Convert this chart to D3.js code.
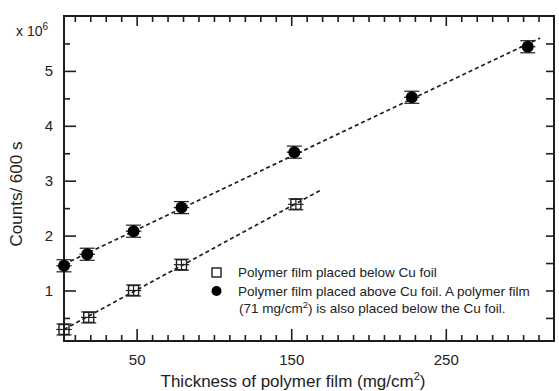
<!DOCTYPE html>
<html>
<head>
<meta charset="utf-8">
<script src="https://cdn.jsdelivr.net/npm/d3@7"></script>
<style>
  body { margin: 0; background: #fff; }
  svg { font-family: "Liberation Sans", Arial, sans-serif; }
</style>
</head>
<body>
<div id="chart"></div>
<script>
// thickness of polymer film (mg/cm2) and counts per 600 s (x 10^6)
const belowX = [3, 19, 48, 79, 153];
const belowY = [0.29, 0.51, 1.0, 1.47, 2.57];
const belowErr = [0.1, 0.1, 0.1, 0.1, 0.1];

const aboveX = [3, 18, 48, 79, 152, 228, 303];
const aboveY = [1.45, 1.66, 2.08, 2.51, 3.52, 4.52, 5.44];
const aboveErr = [0.11, 0.11, 0.11, 0.11, 0.11, 0.11, 0.11];

const xErr = 5;

// x extent of the dashed fit lines
const belowFitX = [3, 169];
const aboveFitX = [3, 311];

const xLabels = [50, 150, 250];
const yLabels = [1, 2, 3, 4, 5];

const legendItems = [
  "Polymer film placed below Cu foil",
  "Polymer film placed above Cu foil. A  polymer film"
];

// plot box
const W = 559, H = 391;
const box = { left: 64, right: 554, top: 16, bottom: 341 };
const ink = "#1e1e1e";

const svg = d3.select("#chart").append("svg")
    .attr("width", W)
    .attr("height", H);

const x = d3.scaleLinear().domain([3, 320]).range([box.left, box.right]);
const y = d3.scaleLinear().domain([0.08, 6.0]).range([box.bottom, box.top]);

// minor ticks
const xMinor = d3.range(10, 320, 10).filter(v => !xLabels.includes(v));
const yMinor = [0.5, 1.5, 2.5, 3.5, 4.5, 5.5];

function tidy(g) {
    g.select(".domain").remove();
    g.selectAll("line").attr("stroke", ink).attr("stroke-width", 1.6);
    g.selectAll("text").attr("fill", "#222").attr("font-family", null).style("font-size", "15px");
}

// bottom axis
svg.append("g")
    .attr("transform", `translate(0,${box.bottom})`)
    .call(d3.axisBottom(x).tickValues(xLabels).tickFormat(d3.format("d"))
        .tickSizeInner(-12).tickSizeOuter(0).tickPadding(13))
    .call(tidy);
svg.append("g")
    .attr("transform", `translate(0,${box.bottom})`)
    .call(d3.axisBottom(x).tickValues(xMinor).tickSizeInner(-6).tickSizeOuter(0).tickFormat(""))
    .call(tidy);

// top axis (ticks only)
svg.append("g")
    .attr("transform", `translate(0,${box.top})`)
    .call(d3.axisTop(x).tickValues(xLabels).tickSizeInner(-10).tickSizeOuter(0).tickFormat(""))
    .call(tidy);
svg.append("g")
    .attr("transform", `translate(0,${box.top})`)
    .call(d3.axisTop(x).tickValues(xMinor).tickSizeInner(-6).tickSizeOuter(0).tickFormat(""))
    .call(tidy);

// left axis
svg.append("g")
    .attr("transform", `translate(${box.left},0)`)
    .call(d3.axisLeft(y).tickValues(yLabels).tickFormat(d3.format("d"))
        .tickSizeInner(-12).tickSizeOuter(0).tickPadding(11))
    .call(tidy);
svg.append("g")
    .attr("transform", `translate(${box.left},0)`)
    .call(d3.axisLeft(y).tickValues(yMinor).tickSizeInner(-6).tickSizeOuter(0).tickFormat(""))
    .call(tidy);

// right axis (ticks only)
svg.append("g")
    .attr("transform", `translate(${box.right},0)`)
    .call(d3.axisRight(y).tickValues(yLabels.concat(yMinor)).tickSizeInner(-8).tickSizeOuter(0).tickFormat(""))
    .call(tidy);

// frame
svg.append("rect")
    .attr("x", box.left).attr("y", box.top)
    .attr("width", box.right - box.left).attr("height", box.bottom - box.top)
    .attr("fill", "none")
    .attr("stroke", ink)
    .attr("stroke-width", 2);

// x 10^6 label
const mult = svg.append("text")
    .attr("x", 16).attr("y", 36)
    .attr("fill", "#222")
    .style("font-size", "14px")
    .text("x 10");
mult.append("tspan")
    .attr("dy", -6)
    .style("font-size", "10px")
    .text("6");

// axis titles
const xt = svg.append("text")
    .attr("x", 293).attr("y", 387)
    .attr("text-anchor", "middle")
    .attr("fill", "#222")
    .style("font-size", "17px")
    .text("Thickness of polymer film (mg/cm");
xt.append("tspan").attr("dy", -7).style("font-size", "11px").text("2");
xt.append("tspan").attr("dy", 7).text(")");

svg.append("text")
    .attr("transform", "translate(22,194) rotate(-90)")
    .attr("text-anchor", "middle")
    .attr("fill", "#222")
    .style("font-size", "17px")
    .text("Counts/ 600 s");

// least squares fit
function fit(xs, ys) {
    const mx = d3.mean(xs), my = d3.mean(ys);
    const sxy = d3.sum(xs, (v, i) => (v - mx) * (ys[i] - my));
    const sxx = d3.sum(xs, v => (v - mx) * (v - mx));
    const b = sxy / sxx;
    return v => my + b * (v - mx);
}

function drawSeries(xs, ys, errs, fitX, shape) {
    const f = fit(xs, ys);
    svg.append("line")
        .attr("x1", x(fitX[0])).attr("y1", y(f(fitX[0])))
        .attr("x2", x(fitX[1])).attr("y2", y(f(fitX[1])))
        .attr("stroke", ink)
        .attr("stroke-width", 1.7)
        .attr("stroke-dasharray", "4,3");

    const pts = xs.map((v, i) => ({ x: v, y: ys[i], e: errs[i] }));
    const g = svg.append("g").selectAll("g").data(pts).join("g");

    // vertical error bars with caps
    g.append("line")
        .attr("x1", d => x(d.x)).attr("x2", d => x(d.x))
        .attr("y1", d => y(d.y - d.e)).attr("y2", d => y(d.y + d.e))
        .attr("stroke", ink).attr("stroke-width", 1.2);
    [-1, 1].forEach(s => {
        g.append("line")
            .attr("x1", d => x(d.x) - 7.5).attr("x2", d => x(d.x) + 7.5)
            .attr("y1", d => y(d.y + s * d.e)).attr("y2", d => y(d.y + s * d.e))
            .attr("stroke", ink).attr("stroke-width", 1.2);
    });
    // horizontal error bars
    g.append("line")
        .attr("x1", d => x(d.x - xErr)).attr("x2", d => x(d.x + xErr))
        .attr("y1", d => y(d.y)).attr("y2", d => y(d.y))
        .attr("stroke", ink).attr("stroke-width", 1.2);

    if (shape === "circle") {
        g.append("circle")
            .attr("cx", d => x(d.x)).attr("cy", d => y(d.y))
            .attr("r", 6)
            .attr("fill", "#000");
    } else {
        g.append("rect")
            .attr("x", d => x(d.x) - 5).attr("y", d => y(d.y) - 5)
            .attr("width", 10).attr("height", 10)
            .attr("fill", "none")
            .attr("stroke", ink)
            .attr("stroke-width", 1.4);
    }
}

drawSeries(belowX, belowY, belowErr, belowFitX, "square");
drawSeries(aboveX, aboveY, aboveErr, aboveFitX, "circle");

// legend
const lg = svg.append("g").style("font-size", "13.5px").style("white-space", "pre").attr("fill", "#222");
lg.append("rect")
    .attr("x", 212).attr("y", 268)
    .attr("width", 9).attr("height", 9)
    .attr("fill", "none").attr("stroke", ink).attr("stroke-width", 1.4);
lg.append("circle")
    .attr("cx", 216.5).attr("cy", 291)
    .attr("r", 5).attr("fill", "#000");
lg.append("text").attr("x", 238).attr("y", 277).text(legendItems[0]);
lg.append("text").attr("x", 238).attr("y", 295.5).text(legendItems[1]);
const l3 = lg.append("text").attr("x", 239).attr("y", 313).text("(71 mg/cm");
l3.append("tspan").attr("dy", -5).style("font-size", "9.5px").text("2");
l3.append("tspan").attr("dy", 5).text(") is also placed below the Cu foil.");
</script>
</body>
</html>
